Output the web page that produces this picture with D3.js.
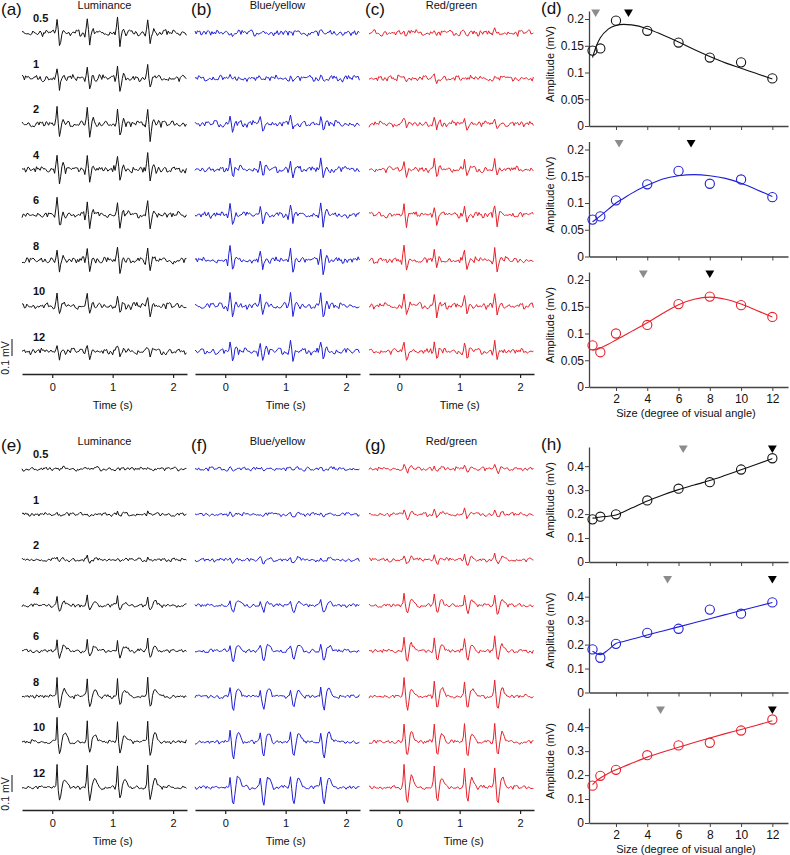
<!DOCTYPE html>
<html><head><meta charset="utf-8">
<script src="https://cdn.jsdelivr.net/npm/d3@7"></script>
<style>body{margin:0;background:#fff} text{font-family:"Liberation Sans",Arial,sans-serif;fill:#111}</style>
</head><body><svg id="c" width="790" height="855"></svg>
<script>
// ---------- data ----------
const sizeLabels = ["0.5","1","2","4","6","8","10","12"];
const sizeVals = [0.5,1,2,4,6,8,10,12];
const timeTicks = [0,1,2];
const panelTitles = ["Luminance","Blue/yellow","Red/green"];
const colors = ["#111111","#1f1fd6","#e8202a"];

// amplitude (mV) of response per trace (rows: luminance, blue/yellow, red/green)
const topAmp = [
  [0.085,0.075,0.10,0.09,0.085,0.075,0.065,0.04],
  [0.01,0.02,0.05,0.06,0.065,0.075,0.08,0.065],
  [0.015,0.018,0.04,0.055,0.065,0.075,0.075,0.065]
];
const botAmp = [
  [0.01,0.012,0.02,0.06,0.08,0.12,0.14,0.145],
  [0.008,0.012,0.02,0.05,0.07,0.09,0.11,0.12],
  [0.025,0.03,0.035,0.07,0.085,0.1,0.115,0.13]
];
const topNoise = [0.016,0.016,0.015];
const botNoise = [0.01,0.01,0.01];
const cycleGain = [1.05,0.95,0.92,1.0];

// one response cycle (0.5 s, sampled every 0.02 s), normalised
const topTpl = [0,0.05,-0.15,0.3,1.0,0.1,-0.9,-0.45,0.1,0.25,0.08,-0.08,0.03,0.1,0.03,-0.05,0,0.05,0,0,0,0,0,0,0];
const botTpl = [
  [0,0,0,0.15,1.0,-0.1,-0.55,-0.35,0.05,0.3,0.35,0.3,0.2,0.12,0.05,0,-0.05,0,0,0,0,0,0,0,0],
  [0,0,0,0.1,0.55,0.0,-0.7,-0.9,-0.4,0.2,0.5,0.5,0.4,0.25,0.1,0,0,0,0,0,0,0,0,0,0],
  [0,0,0,0.2,1.0,0.2,-0.6,-0.7,-0.2,0.3,0.5,0.45,0.3,0.15,0.05,0,0,0,0,0,0,0,0,0,0]
];
const noiseTbl = [0.3,-0.5,0.8,-0.2,-0.9,0.4,0.1,0.7,-0.6,0.2,-0.3,0.9,-0.8,0.0,0.5,-0.4,0.6,-0.7,0.2,0.8,-0.1,-0.9,0.3,0.5,-0.5,0.1,0.7,-0.3,-0.6,0.9,-0.2,0.4,-0.8,0.6,0.0,-0.4,0.8,-0.7,0.3,0.2,-0.9,0.5,-0.1,0.7,-0.5,0.3,-0.2,0.6,-0.8,0.9,-0.3,0.1,0.4,-0.6,0.7,-0.4,0.2,-0.7,0.5,0.0,-0.3,0.8,-0.5,0.1];

// amplitude vs size (mV)
const topPts = [
  [0.141,0.145,0.197,0.178,0.156,0.128,0.119,0.089],
  [0.069,0.075,0.105,0.135,0.16,0.136,0.144,0.111],
  [0.078,0.065,0.10,0.116,0.155,0.169,0.153,0.131]
];
const botPts = [
  [0.178,0.189,0.199,0.257,0.306,0.333,0.386,0.433],
  [0.18,0.145,0.203,0.249,0.266,0.346,0.329,0.376],
  [0.156,0.197,0.222,0.283,0.324,0.335,0.386,0.432]
];
const fitX = [0.5,0.75,1,1.5,2,2.5,3,4,5,6,7,8,9,10,11,12];
const topFit = [
  [0.128,0.150,0.165,0.181,0.188,0.190,0.189,0.182,0.170,0.157,0.143,0.130,0.118,0.108,0.098,0.088],
  [0.065,0.070,0.076,0.088,0.100,0.109,0.118,0.133,0.145,0.151,0.153,0.151,0.146,0.137,0.125,0.112],
  [0.069,0.070,0.073,0.080,0.088,0.096,0.104,0.120,0.138,0.154,0.164,0.168,0.164,0.155,0.143,0.131]
];
const botFit = [
  [0.183,0.185,0.188,0.191,0.196,0.210,0.225,0.255,0.280,0.302,0.321,0.340,0.362,0.385,0.408,0.432],
  [0.172,0.163,0.158,0.178,0.205,0.213,0.222,0.240,0.257,0.274,0.291,0.308,0.325,0.342,0.359,0.376],
  [0.160,0.176,0.188,0.207,0.222,0.236,0.249,0.275,0.296,0.316,0.336,0.355,0.373,0.390,0.408,0.427]
];
const topGrayTri = [0.7,2.2,3.75], topBlackTri = [2.8,6.8,8.0];
const botGrayTri = [6.3,5.3,4.85], botBlackTri = [12,12,12];
const topYTicks = [0,0.05,0.1,0.15,0.2], botYTicks = [0,0.1,0.2,0.3,0.4];
const sizeTicks = [2,4,6,8,10,12];

// ---------- drawing ----------
const svg = d3.select("#c");
const F = '"Liberation Sans",Arial,sans-serif';

function drawHalf(off, amps, noiseAmps, tplFn, pts, fits, grayTri, blackTri, yMax, yTicks, letters, yFmt){
  const xs = [22,195,369];
  for (let p=0;p<3;p++){
    const x = d3.scaleLinear().domain([-0.5,2.23]).range([xs[p], xs[p]+165]);
    svg.append("text").attr("x", p===0?1:xs[p]-4).attr("y", off+15).attr("font-size",17).text("("+letters[p]+")");
    svg.append("text").attr("x", (x(-0.5)+x(2.23))/2).attr("y", off+9).attr("font-size",11).attr("text-anchor","middle").text(panelTitles[p]);
    const times = d3.range(137).map(i=>-0.5+i*0.02);
    for (let k=0;k<8;k++){
      const base = off + 33 + k*45.5;
      const y = d3.scaleLinear().domain([0,0.1]).range([base, base-16]);
      const seed = k*11 + p*23 + (off>0?7:0);
      const tpl = tplFn(p);
      const vals = times.map((t,i)=>{
        let v = noiseAmps[p]*(noiseTbl[(i*5+seed)%64] + 0.6*noiseTbl[(Math.floor(i/4)+seed*3)%64]);
        if (t>=-1e-9 && t<2.0-1e-9){
          const c = Math.floor((t+1e-9)/0.5);
          const j = Math.round((t-c*0.5)/0.02);
          v += amps[p][k]*cycleGain[c]*tpl[j];
        }
        return v;
      });
      svg.append("path").datum(vals)
        .attr("fill","none").attr("stroke",colors[p]).attr("stroke-width",1)
        .attr("d", d3.line().x((d,i)=>x(times[i])).y(d=>y(d)));
      if (p===0){
        svg.append("text").attr("x",33).attr("y",base-11).attr("font-size",11).attr("font-weight","bold").text(sizeLabels[k]);
      }
    }
    const ax = svg.append("g").attr("transform",`translate(0,${off+374})`)
      .call(d3.axisBottom(x).tickValues(timeTicks).tickSize(4).tickSizeOuter(0).tickFormat(d3.format("d")));
    ax.select(".domain").attr("stroke","#222").attr("stroke-width",1.3);
    ax.selectAll(".tick line").attr("stroke","#222").attr("stroke-width",1.2);
    ax.selectAll("text").attr("font-size",11).attr("font-family",F).attr("fill","#111").attr("dy","0.9em");
    svg.append("text").attr("x",x(1)+(p===2&&off>0?4:0)).attr("y",off+409).attr("font-size",11).attr("text-anchor","middle").text("Time (s)");
  }
  // scale bar
  svg.append("line").attr("x1",12).attr("x2",12).attr("y1",off+339).attr("y2",off+356).attr("stroke","#111").attr("stroke-width",1);
  svg.append("text").attr("transform",`translate(9,${off+358}) rotate(-90)`).attr("font-size",10.5).attr("text-anchor","middle").text("0.1 mV");

  // right column
  svg.append("text").attr("x",541).attr("y",off+14).attr("font-size",17).text("("+letters[3]+")");
  const xr = d3.scaleLinear().domain([0.275,13.0]).range([589,788]);
  for (let s=0;s<3;s++){
    const zero = off + 126 + s*130.5;
    const yr = d3.scaleLinear().domain([0,yMax]).range([zero, zero-115]);
    const gy = svg.append("g").attr("transform","translate(589,0)")
      .call(d3.axisLeft(yr).tickValues(yTicks).tickSize(4).tickSizeOuter(0).tickFormat(yFmt));
    gy.select(".domain").attr("stroke","#444").attr("stroke-width",1.3);
    gy.selectAll(".tick line").attr("stroke","#444");
    gy.selectAll("text").attr("font-size",12).attr("font-family",F).attr("fill","#111").attr("x",-5);
    const gx = svg.append("g").attr("transform",`translate(0,${zero})`)
      .call(d3.axisBottom(xr).tickValues(sizeTicks).tickSize(4).tickSizeOuter(0).tickFormat(s===2?d3.format("d"):()=>""));
    gx.select(".domain").attr("stroke","#444").attr("stroke-width",1.3);
    gx.selectAll(".tick line").attr("stroke","#444");
    gx.selectAll("text").attr("font-size",12).attr("font-family",F).attr("fill","#111");
    svg.append("text").attr("transform",`translate(554,${zero-62}) rotate(-90)`).attr("font-size",11).attr("text-anchor","middle").text("Amplitude (mV)");
    svg.append("path").datum(fits[s]).attr("fill","none").attr("stroke",colors[s]).attr("stroke-width",1.1)
      .attr("d", d3.line().x((d,i)=>xr(fitX[i])).y(d=>yr(d)).curve(d3.curveMonotoneX));
    svg.selectAll(null).data(pts[s]).enter().append("circle")
      .attr("cx",(d,i)=>xr(sizeVals[i])).attr("cy",d=>yr(d)).attr("r",4.6)
      .attr("fill","none").attr("stroke",colors[s]).attr("stroke-width",1.1);
    const tri = d3.symbol().type(d3.symbolTriangle).size(34);
    svg.append("path").attr("d",tri()).attr("fill","#8c8c8c")
      .attr("transform",`translate(${xr(grayTri[s])},${zero-114}) rotate(180)`);
    svg.append("path").attr("d",tri()).attr("fill","#000")
      .attr("transform",`translate(${xr(blackTri[s])},${zero-114}) rotate(180)`);
  }
  svg.append("text").attr("x",686).attr("y",off+417).attr("font-size",11).attr("text-anchor","middle").text("Size (degree of visual angle)");
}

const fmtTop = d => d===0?"0":String(d);
drawHalf(0, topAmp, topNoise, p=>topTpl, topPts, topFit, topGrayTri, topBlackTri, 0.215, topYTicks, ["a","b","c","d"], fmtTop);
drawHalf(436, botAmp, botNoise, p=>botTpl[p], botPts, botFit, botGrayTri, botBlackTri, 0.48, botYTicks, ["e","f","g","h"], fmtTop);
</script>
</body></html>
